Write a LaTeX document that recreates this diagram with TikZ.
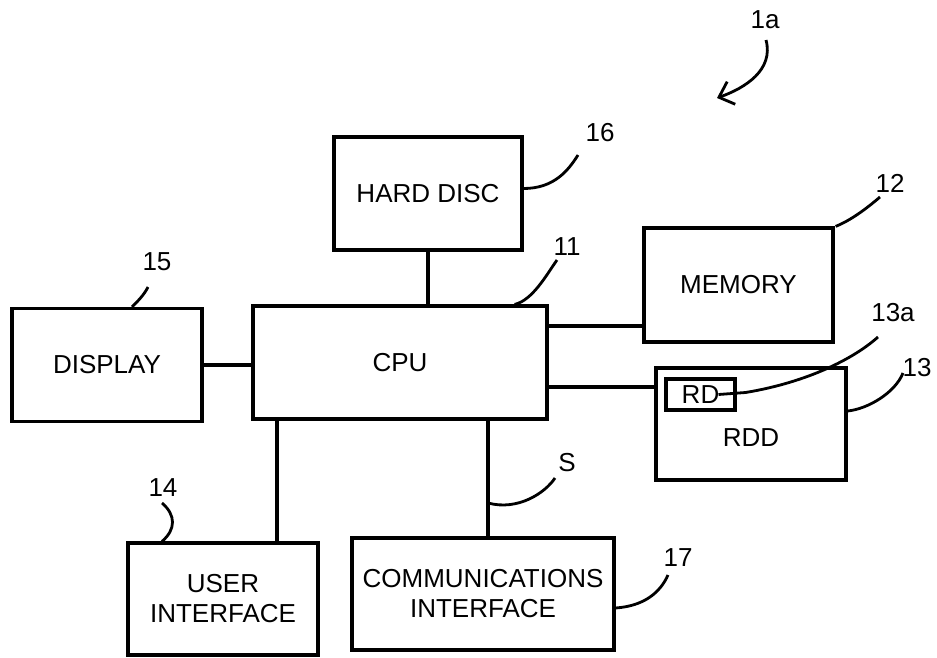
\documentclass[tikz,border=0pt]{standalone}
\usepackage{fontspec}
\setmainfont{Liberation Sans}
\usetikzlibrary{arrows.meta}
\newcommand{\blockNode}[6]{%%
  %% One block of the apparatus.
  \node[boxStyle,minimum width=#4,minimum height=#5] (#1) at (#2,#3) {#6};
}
\newcommand{\refNumber}[3]{%%
  \node[labelStyle] (#1) at (#2) {#3};
}

\begin{document}
\begin{tikzpicture}[%%
  x=1pt,y=-1pt,%%
  font=\fontsize{26}{30}\selectfont,%%
  boxStyle/.style={draw,line width=3.2pt,rectangle,inner sep=0pt,align=center},%%
  busStyle/.style={-,line width=3.2pt},%%
  leaderStyle/.style={-,line width=2.8pt},%%
  labelStyle/.style={inner sep=0pt}%%
]
\useasboundingbox (0,0) rectangle (937,657);
%%
%% The blocks.
\blockNode{hardDisc}{428}{193.5}{188}{113}{HARD DISC}
\blockNode{memory}{738.5}{285}{189}{114}{MEMORY}
\blockNode{display}{107}{365}{190}{113}{DISPLAY}
\blockNode{cpu}{400}{362.5}{294}{113}{CPU}
\blockNode{rdd}{751}{424}{190}{112}{}
\node (rddText) at (751,438) {RDD};
\blockNode{rd}{700.5}{394.5}{69}{31}{RD}
\blockNode{userIf}{223}{599}{190}{112}{USER\\INTERFACE}
\blockNode{commIf}{483}{594}{262}{112}{COMMUNICATIONS\\INTERFACE}
%%
%% Levels of the bus lines.
\coordinate (memLevel) at (0,326);
\coordinate (rddLevel) at (0,387);
\coordinate (uiDrop) at (277,0);
\coordinate (commDrop) at (488,0);
\coordinate (sJoin) at (488,503);
%% The bus lines.
\draw[busStyle] (hardDisc.south) -- (hardDisc.south |- cpu.north);
\draw[busStyle] (cpu.east |- memLevel) -- (memory.west |- memLevel);
\draw[busStyle] (cpu.east |- rddLevel) -- (rdd.west |- rddLevel);
\draw[busStyle] (display.east) -- (display.east -| cpu.west);
\draw[busStyle] (cpu.south -| uiDrop) -- (userIf.north -| uiDrop);
\draw[busStyle] (cpu.south -| commDrop) -- (commIf.north -| commDrop);
%%
%% Reference numbers.
\refNumber{n1a}{765,20}{1a}
\refNumber{n16}{600,133}{16}
\refNumber{n11}{567,247}{11}
\refNumber{n12}{890,183}{12}
\refNumber{n13a}{893,313}{13a}
\refNumber{n13}{917,368}{13}
\refNumber{n15}{157,262}{15}
\refNumber{n14}{163,488}{14}
\refNumber{nS}{567,463}{S}
\refNumber{n17}{678,558}{17}
%% Free ends of the leaders.
\coordinate (tip1a) at (766,40);
\coordinate (tip16) at (578,155);
\coordinate (tip11) at (557,260);
\coordinate (tip12) at (880,197);
\coordinate (tip13a) at (878,337);
\coordinate (tip13) at (903,373);
\coordinate (tip15) at (148,287);
\coordinate (tip14) at (162,503);
\coordinate (tipS) at (555,478);
\coordinate (tip17) at (668,575);
%% The leaders.
\draw[leaderStyle,-{Straight Barb[length=13pt,width=24pt]}] (tip1a) .. controls +(8,30) and +(28,-10) .. (717,98);
\draw[leaderStyle] ([yshift=5pt]hardDisc.east) .. controls +(30,0) and +(-10,16) .. (tip16);
\draw[leaderStyle] ([xshift=-34pt]cpu.north east) .. controls +(18,-4) and +(-10,14) .. (tip11);
\draw[leaderStyle] ([xshift=1pt]memory.north east) .. controls +(15,-6) and +(-14,12) .. (tip12);
\draw[leaderStyle] ([xshift=18pt]rd.center) -- ++(27,-2) .. controls +(55,-9) and +(-28,25) .. (tip13a);
\draw[leaderStyle] ([yshift=13pt]rdd.east) .. controls +(20,-2) and +(-8,20) .. (tip13);
\draw[leaderStyle] ([xshift=25pt]display.north) .. controls +(6,-6) and +(-4,8) .. (tip15);
\draw[leaderStyle] ([xshift=-61pt]userIf.north) .. controls +(14,-12) and +(14,12) .. (tip14);
\draw[leaderStyle] (sJoin) .. controls +(30,8) and +(-10,15) .. (tipS);
\draw[leaderStyle] ([yshift=-14pt]commIf.east) .. controls +(28,-2) and +(-8,18) .. (tip17);
\end{tikzpicture}
\end{document}
